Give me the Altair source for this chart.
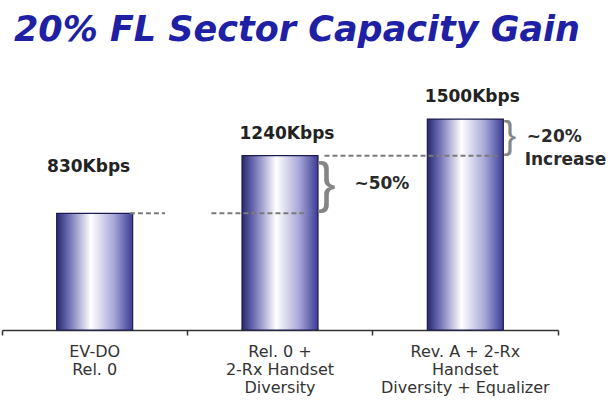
import altair as alt
import pandas as pd

# ---- data ----
categories = [
    "EV-DO\nRel. 0",
    "Rel. 0 +\n2-Rx Handset\nDiversity",
    "Rev. A + 2-Rx\nHandset\nDiversity + Equalizer",
]
throughput = [830, 1240, 1500]
value_labels = ["830Kbps", "1240Kbps", "1500Kbps"]

# dashed reference lines: level (Kbps) and extent in category-band units (0..3)
dash_level = [830, 830, 1240]
dash_from = [0.69, 1.13, 1.74]
dash_to = [0.88, 1.65, 2.69]

# braces marking the gains (midpoint of the two levels, band-unit position)
brace_low = [830, 1240]
brace_high = [1240, 1500]
brace_x = [1.75, 2.74]

# gain notes
note_text = ["~50%", "~20%", "Increase"]
note_x = [2.05, 2.98, 3.04]
note_y = [1035, 1372, 1209]

YMAX = 1920

bars_df = pd.DataFrame({"category": categories, "kbps": throughput, "label": value_labels})
dash_df = pd.DataFrame({"level": dash_level, "x0": dash_from, "x1": dash_to})
brace_df = pd.DataFrame({
    "mid": [(a + b) / 2 for a, b in zip(brace_low, brace_high)],
    "x": brace_x,
    "idx": [0, 1],
})
note_df = pd.DataFrame({"text": note_text, "x": note_x, "y": note_y})

xband = alt.X(
    "category:N",
    sort=categories,
    scale=alt.Scale(paddingInner=0, paddingOuter=0),
    axis=alt.Axis(
        title=None,
        labelAngle=0,
        labelExpr="split(datum.label, '\\n')",
        labelFont="DejaVu Sans",
        labelFontSize=16,
        labelColor="#333333",
        labelLineHeight=18,
        labelPadding=8,
        labelLimit=400,
        domainColor="#333333",
        domainWidth=1.5,
        tickColor="#333333",
        tickWidth=1.5,
        tickSize=5,
        bandPosition=1,
        tickExtra=True,
    ),
)
yq = alt.Y("kbps:Q", scale=alt.Scale(domain=[0, YMAX]), axis=None)

gradient = alt.Gradient(
    gradient="linear",
    x1=0, x2=1, y1=0, y2=0,
    stops=[
        alt.GradientStop(color="#28286e", offset=0),
        alt.GradientStop(color="#6a6ab0", offset=0.15),
        alt.GradientStop(color="#ffffff", offset=0.45),
        alt.GradientStop(color="#a8a8d8", offset=0.75),
        alt.GradientStop(color="#3c3c96", offset=1),
    ],
)

bars = alt.Chart(bars_df).mark_bar(
    width=alt.RelativeBandSize(0.41),
    color=gradient,
    stroke="#1c1c50",
    strokeWidth=1.2,
).encode(x=xband, y=yq)

label_style = dict(font="DejaVu Sans", fontSize=17, fontWeight="bold", color="#222222", baseline="middle")
lbl_first = alt.Chart(bars_df).transform_filter(
    alt.datum.kbps == throughput[0]
).mark_text(dy=-46, dx=-6, **label_style).encode(x=xband, y=yq, text="label:N")
lbl_rest = alt.Chart(bars_df).transform_filter(
    alt.datum.kbps != throughput[0]
).mark_text(dy=-22, dx=7, **label_style).encode(x=xband, y=yq, text="label:N")

base = alt.layer(bars, lbl_first, lbl_rest)

xq_scale = alt.Scale(domain=[0, 3])

dashes = alt.Chart(dash_df).mark_rule(
    strokeDash=[5, 3], strokeWidth=2, color="#7a7a7a"
).encode(
    x=alt.X("x0:Q", scale=xq_scale, axis=None),
    x2="x1:Q",
    y=alt.Y("level:Q", scale=alt.Scale(domain=[0, YMAX]), axis=None),
)

brace_style = dict(font="Liberation Sans", color="#858585", baseline="middle", align="center", text="}")
brace1 = alt.Chart(brace_df).transform_filter(alt.datum.idx == 0).mark_text(
    fontSize=56, **brace_style
).encode(
    x=alt.X("x:Q", scale=xq_scale, axis=None),
    y=alt.Y("mid:Q", scale=alt.Scale(domain=[0, YMAX]), axis=None),
)
brace2 = alt.Chart(brace_df).transform_filter(alt.datum.idx == 1).mark_text(
    fontSize=38, **brace_style
).encode(
    x=alt.X("x:Q", scale=xq_scale, axis=None),
    y=alt.Y("mid:Q", scale=alt.Scale(domain=[0, YMAX]), axis=None),
)

notes = alt.Chart(note_df).mark_text(
    font="DejaVu Sans", fontSize=17, fontWeight="bold", color="#2a2a2a", baseline="middle"
).encode(
    x=alt.X("x:Q", scale=xq_scale, axis=None),
    y=alt.Y("y:Q", scale=alt.Scale(domain=[0, YMAX]), axis=None),
    text="text:N",
)

ann = alt.layer(dashes, brace1, brace2, notes)

chart = alt.layer(base, ann).resolve_scale(x="independent").properties(
    width=556,
    height=270,
    autosize="none",
    padding={"left": 2, "top": 60, "right": 55, "bottom": 74},
    background="white",
    title=alt.Title(
        "20% FL Sector Capacity Gain",
        font="DejaVu Sans",
        fontSize=35,
        fontStyle="italic",
        fontWeight="bold",
        color="#2020a4",
        anchor="start",
        frame="group",
        dx=12,
        offset=12,
    ),
).configure_view(stroke=None)

chart.save("out.html", embed_options={"renderer": "svg", "actions": False})
